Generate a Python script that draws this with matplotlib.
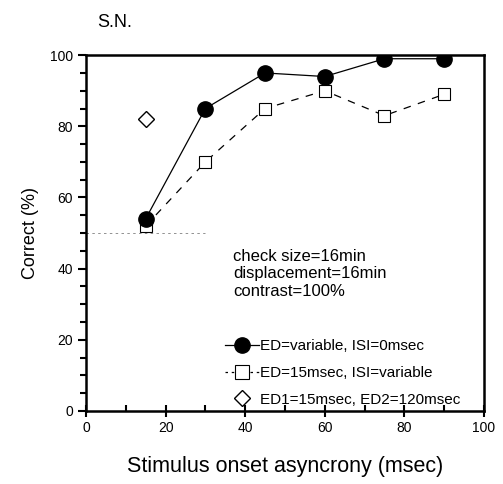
import matplotlib
matplotlib.use('Agg')
import matplotlib.pyplot as plt
from matplotlib.ticker import MultipleLocator
from matplotlib.lines import Line2D

plt.rcParams['font.family'] = ['Liberation Sans', 'DejaVu Sans']

# Data
soa = [15, 30, 45, 60, 75, 90]
ed_variable = [54, 85, 95, 94, 99, 99]
isi_variable = [52, 70, 85, 90, 83, 89]
diamond_x = [15]
diamond_y = [82]
chance_x = [0, 30]
chance_y = [50, 50]

fig = plt.figure(figsize=(5.03, 4.84), dpi=100)
ax = fig.add_axes([0.171, 0.151, 0.791, 0.735])

ax.plot(chance_x, chance_y, color='gray', lw=0.6, ls=(0, (3, 4)))
ax.plot(soa, isi_variable, color='black', lw=0.9, ls=(0, (6, 6)),
        marker='s', ms=9, mfc='white', mec='black', mew=0.8)
ax.plot(soa, ed_variable, color='black', lw=0.9, ls='-',
        marker='o', ms=11, mfc='black', mec='black')
ax.plot(diamond_x, diamond_y, ls='none', marker='D', ms=8, mfc='white',
        mec='black', mew=1.0)

ax.set_xlim(0, 100)
ax.set_ylim(0, 100)
ax.xaxis.set_major_locator(MultipleLocator(20))
ax.xaxis.set_minor_locator(MultipleLocator(10))
ax.yaxis.set_major_locator(MultipleLocator(20))
ax.yaxis.set_minor_locator(MultipleLocator(5))
ax.tick_params(axis='x', which='major', direction='inout', length=8, width=1.5, labelsize=10)
ax.tick_params(axis='x', which='minor', direction='in', length=4, width=1.5)
ax.tick_params(axis='y', which='major', direction='out', length=6, width=1.5, labelsize=10)
ax.tick_params(axis='y', which='minor', direction='out', length=4, width=1.5)
for s in ax.spines.values():
    s.set_linewidth(1.8)

ax.set_xlabel('Stimulus onset asyncrony (msec)', fontsize=15.5, labelpad=15)
ax.set_ylabel('Correct (%)', fontsize=13, labelpad=8)
fig.text(0.193, 0.953, 'S.N.', fontsize=13, va='center', ha='left')

ax.text(37, 45.5, 'check size=16min\ndisplacement=16min\ncontrast=100%',
        fontsize=12, va='top', ha='left', linespacing=1.2)

handles = [
    Line2D([], [], color='black', lw=0.9, marker='o', ms=11, mfc='black'),
    Line2D([], [], color='black', lw=0.9, ls=(0, (2, 3)), marker='s', ms=10,
           mfc='white', mew=0.8),
    Line2D([], [], ls='none', marker='D', ms=8, mfc='white', mec='black'),
]
labels = ['ED=variable, ISI=0msec', 'ED=15msec, ISI=variable',
          'ED1=15msec, ED2=120msec']
ax.legend(handles, labels, loc='lower left', bbox_to_anchor=(0.33, -0.01),
          frameon=False, fontsize=11, handlelength=2.2, handletextpad=0.1,
          labelspacing=0.85, borderaxespad=0.1)

fig.savefig('out.png', dpi=100)
